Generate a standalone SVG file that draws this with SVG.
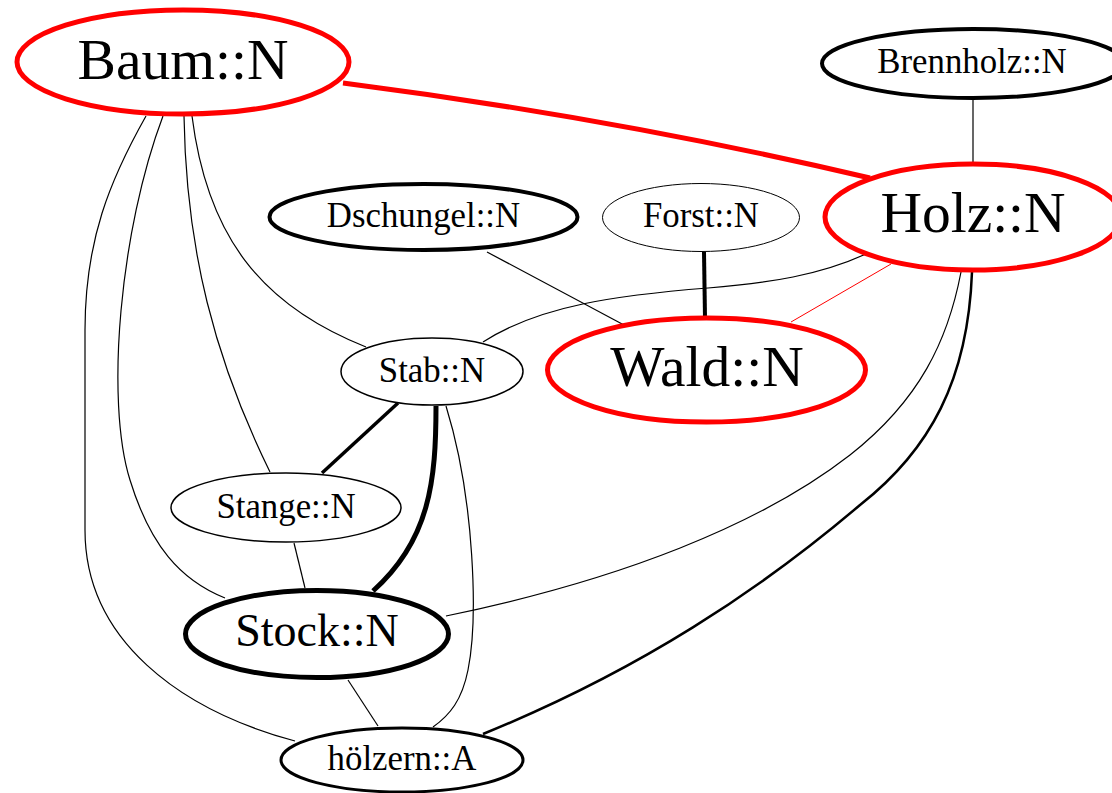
<svg xmlns="http://www.w3.org/2000/svg" width="1112" height="793" viewBox="0 0 1112 793">
  <style>
    .node ellipse { fill: #ffffff; }
    .red { stroke: #ff0000; stroke-width: 5; }
    .bold { stroke: #000000; stroke-width: 4; }
    .heavy { stroke: #000000; stroke-width: 5; }
    .mid { stroke: #000000; stroke-width: 3; }
    .thin { stroke: #000000; stroke-width: 1.5; }
    .hair { stroke: #000000; stroke-width: 1; }
    text { font-family: "Liberation Serif", "Times New Roman", serif; fill: #000000; text-anchor: middle; }
    .big { font-size: 57.5px; }
    .med { font-size: 46px; }
    .small { font-size: 34.8px; }
    #edges path { fill: none; stroke: #000000; stroke-width: 1.2; }
  </style>

  <!-- connectors -->
  <g id="edges">
    <path id="e-baum-holz" d="M343,83 Q615,118 870,178" style="stroke:#ff0000;stroke-width:5"/>
    <path id="e-brennholz-holz" d="M973,100 L973,162"/>
    <path id="e-dschungel-wald" d="M487,252 L624,325"/>
    <path id="e-forst-wald" d="M704,252 L705,318" style="stroke-width:4"/>
    <path id="e-holz-wald" d="M891,264 L791,322" style="stroke:#ff0000;stroke-width:1"/>
    <path id="e-holz-stab" d="M866,254 C820,275 770,283 708,288 C620,295 540,305 483,342"/>
    <path id="e-holz-stock" d="M961,272 C948,340 920,400 850,455 C760,525 620,580 446,616"/>
    <path id="e-holz-hoelzern" d="M972,272 C968,380 930,450 860,505 C760,590 640,670 483,734" style="stroke-width:2.5"/>
    <path id="e-baum-stab" d="M192,116 C207,235 260,305 366,347"/>
    <path id="e-baum-stange" d="M184,116 C186,250 215,360 270,472"/>
    <path id="e-baum-stock" d="M163,116 C120,230 105,400 130,480 C150,545 180,580 225,598"/>
    <path id="e-baum-hoelzern" d="M146,116 C110,180 85,240 85,330 L85,530 C85,640 180,710 295,741"/>
    <path id="e-stab-stange" d="M398,403 L322,473" style="stroke-width:3.5"/>
    <path id="e-stab-stock" d="M436,406 C436,480 430,540 373,591" style="stroke-width:5"/>
    <path id="e-stab-hoelzern" d="M446,406 C475,500 478,620 468,670 C462,700 450,715 433,727"/>
    <path id="e-stange-stock" d="M294,543 L305,588"/>
    <path id="e-stock-hoelzern" d="M348,680 L378,726"/>
  </g>

  <!-- nodes -->
  <g id="baum" class="node">
    <ellipse class="red" cx="183" cy="62" rx="166" ry="52"/>
    <text class="big" x="183" y="79">Baum::N</text>
  </g>
  <g id="brennholz" class="node">
    <ellipse class="bold" cx="973" cy="63.5" rx="151" ry="34.5"/>
    <text class="small" x="972" y="73">Brennholz::N</text>
  </g>
  <g id="holz" class="node">
    <ellipse class="red" cx="973" cy="217" rx="148" ry="53"/>
    <text class="big" x="973" y="232">Holz::N</text>
  </g>
  <g id="dschungel" class="node">
    <ellipse class="bold" cx="423.5" cy="217" rx="154" ry="33"/>
    <text class="small" x="423.5" y="227">Dschungel::N</text>
  </g>
  <g id="forst" class="node">
    <ellipse class="hair" cx="701" cy="217.5" rx="98.5" ry="34"/>
    <text class="small" x="701" y="227">Forst::N</text>
  </g>
  <g id="wald" class="node">
    <ellipse class="red" cx="706.5" cy="370" rx="159" ry="52"/>
    <text class="big" x="707" y="386">Wald::N</text>
  </g>
  <g id="stab" class="node">
    <ellipse class="thin" cx="432" cy="371.5" rx="91" ry="33.5"/>
    <text class="small" x="432" y="382">Stab::N</text>
  </g>
  <g id="stange" class="node">
    <ellipse class="thin" cx="286" cy="507.5" rx="115" ry="34.5"/>
    <text class="small" x="286" y="518">Stange::N</text>
  </g>
  <g id="stock" class="node">
    <ellipse class="heavy" cx="317" cy="634" rx="131.5" ry="43.5"/>
    <text class="med" x="317" y="646">Stock::N</text>
  </g>
  <g id="hoelzern" class="node">
    <ellipse class="mid" cx="402" cy="760" rx="121" ry="32"/>
    <text class="small" x="402" y="770">hölzern::A</text>
  </g>
</svg>
